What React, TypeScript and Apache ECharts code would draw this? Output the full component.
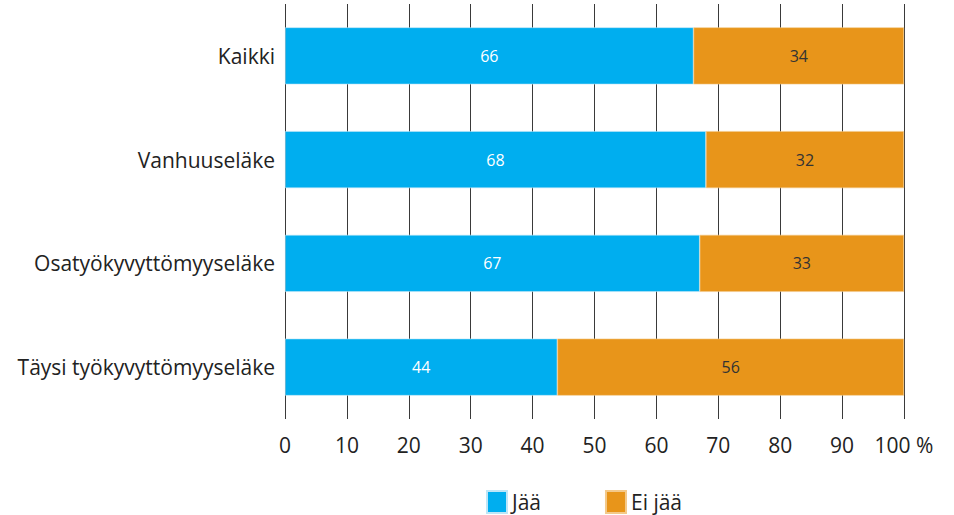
import React, { useEffect, useRef } from "react";
import * as echarts from "echarts";

const categories = ["Kaikki", "Vanhuuseläke", "Osatyökyvyttömyyseläke", "Täysi työkyvyttömyyseläke"];
const jaa = [66, 68, 67, 44];
const eiJaa = [34, 32, 33, 56];
const xTicks = [0, 10, 20, 30, 40, 50, 60, 70, 80, 90, 100];

const FONT = "'Open Sans', 'Noto Sans', sans-serif";

export default function App() {
  const ref = useRef<HTMLDivElement>(null);
  useEffect(() => {
    if (!ref.current) return;
    const chart = echarts.init(ref.current, undefined, { renderer: "svg" });
    chart.setOption({
      animation: false,
      textStyle: { fontFamily: FONT },
      grid: { left: 285, right: 50, top: 4, bottom: 96, containLabel: false },
      xAxis: {
        type: "value",
        min: 0,
        max: 100,
        interval: 10,
        axisLine: { show: false },
        axisTick: { show: false },
        splitLine: { show: true, lineStyle: { color: "#3a3a3a", width: 1 } },
        axisLabel: {
          color: "#222",
          fontSize: 21,
          fontFamily: FONT,
          margin: 15,
          formatter: (v: number) => (v === xTicks[xTicks.length - 1] ? v + " %" : String(v)),
        },
      },
      yAxis: {
        type: "category",
        data: categories,
        inverse: true,
        axisLine: { show: false },
        axisTick: { show: false },
        splitLine: { show: false },
        axisLabel: { color: "#222", fontSize: 21, fontFamily: FONT, margin: 10 },
      },
      legend: {
        top: 490,
        left: 486,
        padding: 0,
        itemWidth: 20,
        itemHeight: 22,
        itemGap: 64,
        icon: "rect",
        textStyle: { color: "#222", fontSize: 21, fontFamily: FONT },
        data: ["Jää", "Ei jää"],
      },
      series: [
        {
          name: "Jää",
          type: "bar",
          stack: "total",
          data: jaa,
          barWidth: "55%",
          itemStyle: { color: "#00AEEF", borderColor: "#bfe6f7", borderWidth: 0.6 },
          label: { show: true, position: "inside", color: "#fff", fontSize: 16, fontFamily: FONT },
        },
        {
          name: "Ei jää",
          type: "bar",
          stack: "total",
          data: eiJaa,
          barWidth: "55%",
          itemStyle: { color: "#E8951A", borderColor: "#f3c98a", borderWidth: 0.6 },
          label: { show: true, position: "inside", color: "#333", fontSize: 16, fontFamily: FONT },
        },
      ],
    });
    return () => chart.dispose();
  }, []);
  return <div ref={ref} style={{ width: 954, height: 515, position: "absolute", left: 0, top: 0 }} />;
}
